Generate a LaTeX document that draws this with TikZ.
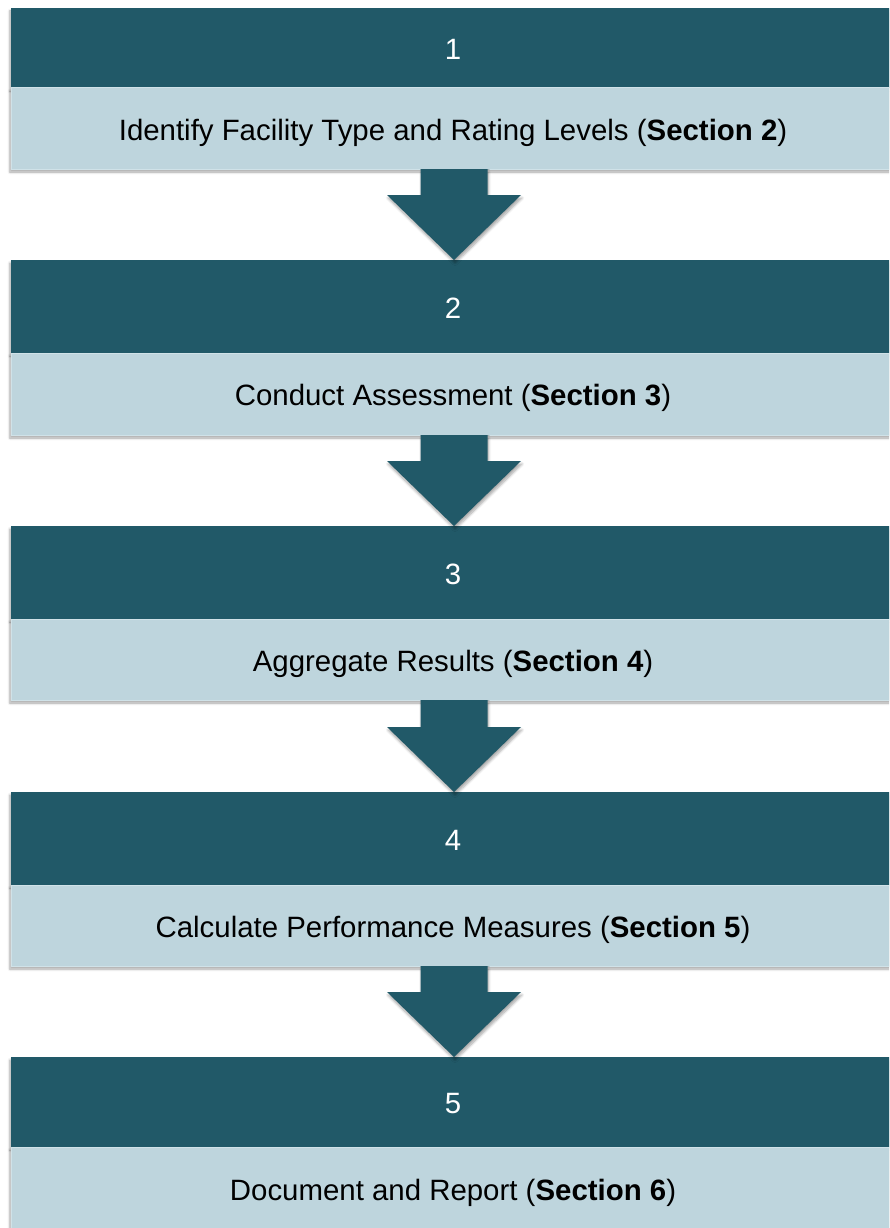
\documentclass[tikz,border=0pt]{standalone}
\usepackage{fontspec}
\setmainfont{Liberation Sans}
\usetikzlibrary{calc,shadows.blur}
\definecolor{darkteal}{RGB}{33,89,104}
\definecolor{paleblue}{RGB}{190,213,221}
\definecolor{paleedge}{RGB}{208,226,232}
\tikzset{
  boxtext/.style={font=\fontsize{29.4}{33}\selectfont, inner sep=0pt, outer sep=0pt, text height=23pt, text depth=0pt,
     anchor=north west, minimum width=884,
     blur shadow={shadow xshift=-1pt, shadow yshift=-3pt, shadow blur steps=6, shadow blur radius=2.5pt, shadow opacity=35}},
  darkbox/.style={rectangle, boxtext, fill=darkteal, draw=none, text=white},
  lightbox/.style={rectangle, boxtext, fill=paleblue, draw=paleedge, line width=1pt, text=black},
  blockarrow/.style={fill=darkteal, draw=none,
     blur shadow={shadow xshift=1pt, shadow yshift=-3pt, shadow blur steps=6, shadow blur radius=2.5pt, shadow opacity=35}}
}
\newcommand{\flowarrow}[2]{%
  \path[blockarrow] ($(#1.south)+(-32.5,0)$) -- ($(#1.south)+(34.5,0)$) -- ($(#2.north)+(34.5,-65)$)
     -- ($(#2.north)+(68,-65)$) -- ($(#2.north)+(1,0)$) -- ($(#2.north)+(-66,-65)$)
     -- ($(#2.north)+(-32.5,-65)$) -- cycle;}
\begin{document}
\begin{tikzpicture}[x=1pt,y=-1pt]
\useasboundingbox (0,0) rectangle (889,1228);
\clip (0,0) rectangle (889,1228);
\node[darkbox, minimum height=80] (d1) at (11,8) {1};
\node[lightbox, minimum height=81] (l1) at (11,88) {Identify Facility Type and Rating Levels (\textbf{Section 2})};
\node[darkbox, minimum height=93] (d2) at (11,260) {2};
\node[lightbox, minimum height=82] (l2) at (11,353) {Conduct Assessment (\textbf{Section 3})};
\node[darkbox, minimum height=93] (d3) at (11,526) {3};
\node[lightbox, minimum height=81] (l3) at (11,619) {Aggregate Results (\textbf{Section 4})};
\node[darkbox, minimum height=93] (d4) at (11,792) {4};
\node[lightbox, minimum height=81] (l4) at (11,885) {Calculate Performance Measures (\textbf{Section 5})};
\node[darkbox, minimum height=90] (d5) at (11,1057) {5};
\node[lightbox, minimum height=84] (l5) at (11,1147) {Document and Report (\textbf{Section 6})};
\flowarrow{l1}{d2}
\flowarrow{l2}{d3}
\flowarrow{l3}{d4}
\flowarrow{l4}{d5}
\end{tikzpicture}
\end{document}
